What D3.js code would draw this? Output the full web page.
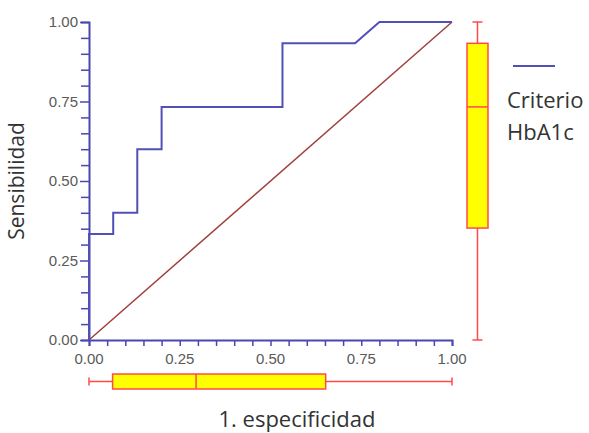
<!DOCTYPE html>
<html><head><meta charset="utf-8">
<script src="https://cdn.jsdelivr.net/npm/d3@7"></script>
<style>body{margin:0;background:#fff}</style>
</head><body><svg id="c" width="589" height="433"></svg>
<script>
// ROC curve points (1 - specificity, sensitivity)
const rocX = [0, 0, 0.0667, 0.0667, 0.133, 0.133, 0.2, 0.2, 0.533, 0.533, 0.733, 0.8, 1];
const rocY = [0, 0.333, 0.333, 0.4, 0.4, 0.6, 0.6, 0.733, 0.733, 0.933, 0.933, 1, 1];
const diagX = [0, 1];
const diagY = [0, 1];
// boxplots: [min, q1, median, q3, max]
const boxSens = [0, 0.352, 0.733, 0.933, 1];
const boxSpec = [0, 0.065, 0.295, 0.652, 1];
const tickVals = [0, 0.25, 0.5, 0.75, 1];
const tickLabels = ["0.00", "0.25", "0.50", "0.75", "1.00"];
const legendLabel = ["Criterio", "HbA1c"];

const svg = d3.select("#c");
const x = d3.scaleLinear().domain([0, 1]).range([89, 452]);
const y = d3.scaleLinear().domain([0, 1]).range([340, 22]);
const axisCol = "#4848b0", lblCol = "#5a5a5a";
const minor = d3.range(0, 1.0001, 0.05);

// axes
const ya = svg.append("g").attr("transform", "translate(89,0)")
  .call(d3.axisLeft(y).tickValues(minor).tickSize(8).tickFormat(""));
const xa = svg.append("g").attr("transform", "translate(0,340)")
  .call(d3.axisBottom(x).tickValues(minor).tickSize(6).tickFormat(""));
[ya, xa].forEach(g => {
  g.selectAll("path").attr("stroke", axisCol).attr("stroke-width", 2);
  g.selectAll("line").attr("stroke", axisCol).attr("stroke-width", 1.5);
});
ya.selectAll(".tick line").filter(d => tickVals.some(t => Math.abs(t - d) < 1e-6)).attr("x2", -9);

// tick labels
svg.append("g").selectAll("text").data(tickVals).join("text")
  .attr("x", 78).attr("y", d => y(d)).attr("dy", "0.35em")
  .attr("text-anchor", "end").attr("font-family", "Liberation Sans, Arial, sans-serif")
  .attr("font-size", 15).attr("fill", lblCol).text((d, i) => tickLabels[i]);
svg.append("g").selectAll("text").data(tickVals).join("text")
  .attr("x", d => x(d)).attr("y", 364)
  .attr("text-anchor", "middle").attr("font-family", "Liberation Sans, Arial, sans-serif")
  .attr("font-size", 15).attr("fill", lblCol).text((d, i) => tickLabels[i]);

// diagonal
svg.append("path").datum(diagX.map((d, i) => [d, diagY[i]]))
  .attr("d", d3.line().x(d => x(d[0])).y(d => y(d[1])))
  .attr("fill", "none").attr("stroke", "#a0403c").attr("stroke-width", 1.5);
// ROC
svg.append("path").datum(rocX.map((d, i) => [d, rocY[i]]))
  .attr("d", d3.line().x(d => x(d[0])).y(d => y(d[1])))
  .attr("fill", "none").attr("stroke", "#5050b8").attr("stroke-width", 2);

const boxStroke = "#ff4a4a", boxFill = "#ffff00";
// vertical boxplot (sensitivity)
const vx = 477.5, vw = 21;
const vb = svg.append("g");
vb.append("line").attr("x1", vx).attr("x2", vx).attr("y1", y(boxSens[0])).attr("y2", y(boxSens[4])).attr("stroke", boxStroke).attr("stroke-width", 1.5);
[boxSens[0], boxSens[4]].forEach(v => vb.append("line").attr("x1", vx - 5).attr("x2", vx + 5).attr("y1", y(v)).attr("y2", y(v)).attr("stroke", boxStroke).attr("stroke-width", 1.5));
vb.append("rect").attr("x", vx - vw / 2).attr("width", vw).attr("y", y(boxSens[3])).attr("height", y(boxSens[1]) - y(boxSens[3]))
  .attr("fill", boxFill).attr("stroke", boxStroke).attr("stroke-width", 1.5);
vb.append("line").attr("x1", vx - vw / 2).attr("x2", vx + vw / 2).attr("y1", y(boxSens[2])).attr("y2", y(boxSens[2])).attr("stroke", boxStroke).attr("stroke-width", 1.5);

// horizontal boxplot (specificity)
const hy = 381.5, hh = 15;
const hb = svg.append("g");
hb.append("line").attr("y1", hy).attr("y2", hy).attr("x1", x(boxSpec[0])).attr("x2", x(boxSpec[4])).attr("stroke", boxStroke).attr("stroke-width", 1.5);
[boxSpec[0], boxSpec[4]].forEach(v => hb.append("line").attr("y1", hy - 4).attr("y2", hy + 4).attr("x1", x(v)).attr("x2", x(v)).attr("stroke", boxStroke).attr("stroke-width", 1.5));
hb.append("rect").attr("y", hy - hh / 2).attr("height", hh).attr("x", x(boxSpec[1])).attr("width", x(boxSpec[3]) - x(boxSpec[1]))
  .attr("fill", boxFill).attr("stroke", boxStroke).attr("stroke-width", 1.5);
hb.append("line").attr("y1", hy - hh / 2).attr("y2", hy + hh / 2).attr("x1", x(boxSpec[2])).attr("x2", x(boxSpec[2])).attr("stroke", boxStroke).attr("stroke-width", 1.5);

// legend
svg.append("line").attr("x1", 513).attr("x2", 555).attr("y1", 66).attr("y2", 66).attr("stroke", "#5050b8").attr("stroke-width", 2);
svg.append("g").selectAll("text").data(legendLabel).join("text")
  .attr("x", 507).attr("y", (d, i) => 108 + i * 32)
  .attr("font-family", "Open Sans, sans-serif").attr("font-size", 22).attr("fill", "#333").text(d => d);

// axis titles
svg.append("text").attr("x", 297).attr("y", 427).attr("text-anchor", "middle")
  .attr("font-family", "Open Sans, sans-serif").attr("font-size", 22).attr("fill", "#333").text("1. especificidad");
svg.append("text").attr("transform", "translate(24,181) rotate(-90)").attr("text-anchor", "middle")
  .attr("font-family", "Open Sans, sans-serif").attr("font-size", 21).attr("fill", "#333").text("Sensibilidad");
</script></body></html>
